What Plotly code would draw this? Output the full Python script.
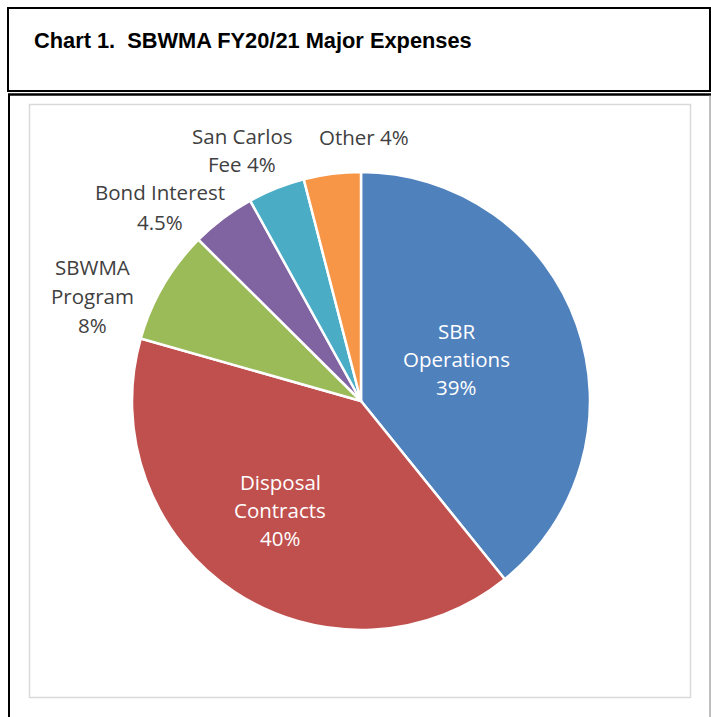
import plotly.graph_objects as go

# ---- data ----
categories = ["SBR Operations", "Disposal Contracts", "SBWMA Program",
              "Bond Interest", "San Carlos Fee", "Other"]
values = [39, 40, 8, 4.5, 4, 4]
colors = ["#4F81BD", "#C0504D", "#9BBB59", "#8064A2", "#4BACC6", "#F79646"]
# how each category name is broken into lines, and how the percent joins it
label_lines = [["SBR", "Operations"], ["Disposal", "Contracts"], ["SBWMA", "Program"],
               ["Bond Interest"], ["San Carlos", "Fee"], ["Other"]]
pct_on_new_line = [True, True, True, True, False, False]
title_text = "Chart 1.  SBWMA FY20/21 Major Expenses"

# ---- layout/styling ----
W, H = 711, 717
# label centres (pixel) and whether inside (white) text
label_pos = [(456, 359), (280, 510), (92, 296), (160, 207), (242, 150), (364, 137)]
label_inside = [True, True, False, False, False, False]
line_gap = [28, 28, 29, 30, 29, 29]

def px(x):
    return x / W

def py(y):
    return 1 - y / H

fig = go.Figure()
fig.add_trace(go.Pie(
    labels=categories, values=values, sort=False, direction="clockwise",
    rotation=0, textinfo="none", hoverinfo="label+percent",
    marker=dict(colors=colors, line=dict(color="white", width=2.5)),
    domain=dict(x=[px(132), px(590)], y=[py(630), py(172)]),
    showlegend=False,
))

annotations = []
for i, cat in enumerate(categories):
    lines = list(label_lines[i])
    pct = f"{values[i]:g}%"
    if pct_on_new_line[i]:
        lines.append(pct)
    else:
        lines[-1] = lines[-1] + " " + pct
    cx, cy = label_pos[i]
    n = len(lines)
    for j, ln in enumerate(lines):
        yy = cy + (j - (n - 1) / 2) * line_gap[i]
        annotations.append(dict(
            x=px(cx), y=py(yy), xref="paper", yref="paper", text=ln,
            showarrow=False, xanchor="center", yanchor="middle",
            font=dict(family="Open Sans, Lato, sans-serif", size=20.5,
                      color="white" if label_inside[i] else "#404040"),
        ))

annotations.append(dict(
    x=px(32), y=py(41), xref="paper", yref="paper",
    text="<b>" + title_text + "</b>", showarrow=False,
    xanchor="left", yanchor="middle",
    font=dict(family="Liberation Sans Narrow, Arial Narrow, Liberation Sans, Arial, sans-serif",
              size=21.8, color="black"),
))

shapes = [
    # title box
    dict(type="rect", xref="paper", yref="paper", x0=px(8), x1=px(710), y0=py(91), y1=py(8),
         line=dict(color="black", width=2)),
    # lower box top and left
    dict(type="line", xref="paper", yref="paper", x0=px(8), x1=px(711), y0=py(94.5), y1=py(94.5),
         line=dict(color="black", width=2.5)),
    dict(type="line", xref="paper", yref="paper", x0=px(9), x1=px(9), y0=py(94), y1=py(717),
         line=dict(color="black", width=2)),
    dict(type="line", xref="paper", yref="paper", x0=px(710), x1=px(710), y0=py(95), y1=py(717),
         line=dict(color="#7F7F7F", width=1)),
    # inner chart area
    dict(type="rect", xref="paper", yref="paper", x0=px(29.5), x1=px(690.5), y0=py(697.5), y1=py(104.5),
         line=dict(color="#D9D9D9", width=1.5)),
]

fig.update_layout(
    width=W, height=H, margin=dict(l=0, r=0, t=0, b=0),
    paper_bgcolor="white", plot_bgcolor="white",
    annotations=annotations, shapes=shapes,
)

fig.write_html("out.html", config={"displayModeBar": False},
               post_script="document.body.style.margin='0';document.body.style.overflow='hidden';")
